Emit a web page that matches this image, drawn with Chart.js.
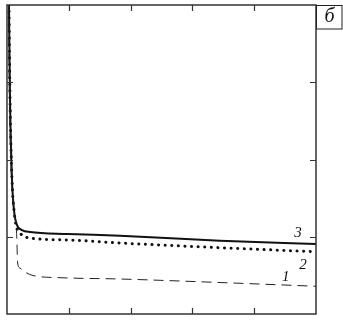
<!DOCTYPE html>
<html>
<head>
<meta charset="utf-8">
<script src="https://cdn.jsdelivr.net/npm/chart.js@4"></script>
<style>
  html, body { margin: 0; padding: 0; background: #fff; }
  #wrap { width: 343px; height: 322px; }
</style>
</head>
<body>
<div id="wrap"><canvas id="chart" width="343" height="322"></canvas></div>
<script>
// curve 3 (solid)
const curve3X = [0.032, 0.049, 0.081, 0.113, 0.162, 0.243, 0.372, 0.987, 1.828, 3.447, 5.0];
const curve3Y = [4.0, 2.77, 1.735, 1.346, 1.152, 1.087, 1.061, 1.036, 1.014, 0.949, 0.906];
// curve 2 (dotted)
const curve2X = [0.032, 0.049, 0.081, 0.113, 0.146, 0.21, 0.372, 0.987, 1.828, 3.447, 5.0];
const curve2Y = [4.0, 2.77, 1.735, 1.346, 1.152, 1.049, 0.984, 0.958, 0.919, 0.858, 0.806];
// curve 1 (dashed)
const curve1X = [0.024, 0.04, 0.073, 0.113, 0.154, 0.162, 0.17, 0.21, 0.291, 0.421, 0.858, 1.828, 3.528, 5.0];
const curve1Y = [4.0, 2.77, 1.735, 1.32, 1.061, 0.893, 0.673, 0.595, 0.544, 0.498, 0.47, 0.453, 0.405, 0.359];

const xTicks = [1, 2, 3, 4];
const yTicks = [1, 2, 3];

const curveLabels = [
    { text: '3', x: 4.71, y: 1.05 },
    { text: '2', x: 4.79, y: 0.634 },
    { text: '1', x: 4.51, y: 0.479 }
];

function toPoints(xs, ys) {
    return xs.map((x, i) => ({ x: x, y: ys[i] }));
}

// рамка, засечки внутрь, подписи кривых и "б"
const framePlugin = {
    id: 'frame',
    afterDraw(chart) {
        const { ctx, chartArea: a, scales } = chart;
        const sx = scales.x, sy = scales.y;
        ctx.save();
        ctx.strokeStyle = '#333';
        ctx.lineWidth = 1.5;
        ctx.strokeRect(a.left, a.top, a.right - a.left, a.bottom - a.top);

        ctx.lineWidth = 1.2;
        const len = 6;
        ctx.beginPath();
        xTicks.forEach(v => {
            const px = Math.round(sx.getPixelForValue(v)) + 0.5;
            ctx.moveTo(px, a.bottom); ctx.lineTo(px, a.bottom - len);
            ctx.moveTo(px, a.top); ctx.lineTo(px, a.top + len);
        });
        yTicks.forEach(v => {
            const py = Math.round(sy.getPixelForValue(v)) + 0.5;
            ctx.moveTo(a.left, py); ctx.lineTo(a.left + len, py);
            ctx.moveTo(a.right, py); ctx.lineTo(a.right - len, py);
        });
        ctx.stroke();

        ctx.fillStyle = '#111';
        ctx.font = 'italic 15px "Liberation Serif", "DejaVu Serif", serif';
        ctx.textAlign = 'center';
        ctx.textBaseline = 'middle';
        curveLabels.forEach(l => {
            ctx.fillText(l.text, sx.getPixelForValue(l.x), sy.getPixelForValue(l.y));
        });

        // box with panel letter
        ctx.lineWidth = 1;
        ctx.strokeStyle = '#222';
        ctx.fillStyle = '#fff';
        ctx.fillRect(a.right, a.top, 26, 24);
        ctx.strokeRect(a.right + 0.5, a.top + 0.5, 25.5, 23.5);
        ctx.fillStyle = '#111';
        ctx.font = 'italic 20px "Liberation Serif", "DejaVu Serif", serif';
        ctx.fillText('б', a.right + 13.5, a.top + 11.5);
        ctx.restore();
    }
};

new Chart(document.getElementById('chart').getContext('2d'), {
    type: 'line',
    data: {
        datasets: [
            {
                label: '1',
                data: toPoints(curve1X, curve1Y),
                borderColor: '#222',
                borderWidth: 1,
                borderDash: [10, 6],
                pointRadius: 0,
                cubicInterpolationMode: 'monotone'
            },
            {
                label: '2',
                data: toPoints(curve2X, curve2Y),
                borderColor: '#111',
                borderWidth: 3,
                borderDash: [0.1, 6.5],
                borderCapStyle: 'round',
                pointRadius: 0,
                cubicInterpolationMode: 'monotone'
            },
            {
                label: '3',
                data: toPoints(curve3X, curve3Y),
                borderColor: '#111',
                borderWidth: 2,
                pointRadius: 0,
                cubicInterpolationMode: 'monotone'
            }
        ]
    },
    options: {
        responsive: false,
        animation: false,
        layout: { padding: { left: 7, top: 5, right: 27, bottom: 8 } },
        plugins: { legend: { display: false }, tooltip: { enabled: false } },
        scales: {
            x: { type: 'linear', min: 0, max: 5, display: false },
            y: { type: 'linear', min: 0, max: 4, display: false }
        }
    },
    plugins: [framePlugin]
});
</script>
</body>
</html>
